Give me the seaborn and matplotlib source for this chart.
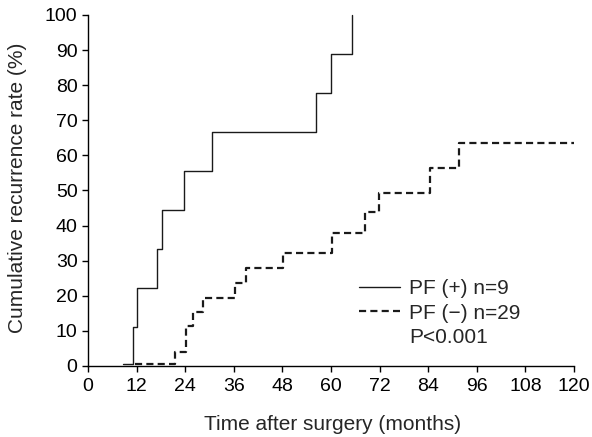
import pandas as pd
import matplotlib
matplotlib.use('Agg')
import matplotlib.pyplot as plt
import seaborn as sns

# curva PF (+): tempos (meses) e taxa acumulada (%)
tempo_pos = [8.6, 11.0, 12.2, 17.1, 18.2, 23.7, 30.5, 56.3, 60.1, 65.3]
taxa_pos = [0.5, 11.1, 22.2, 33.3, 44.4, 55.6, 66.7, 77.8, 88.9, 100.0]

# curva PF (-)
tempo_neg = [11.6, 21.5, 24.2, 26.0, 28.4, 36.3, 39.1, 48.1, 60.2, 68.4, 71.9, 84.4, 91.7, 120.0]
taxa_neg = [0.5, 3.9, 11.5, 15.5, 19.5, 23.7, 28.0, 32.3, 38.0, 43.8, 49.4, 56.3, 63.6, 63.6]

rotulos = ['PF (+) n=9', 'PF (\u2212) n=29']
xticks = list(range(0, 121, 12))
yticks = list(range(0, 101, 10))

df = pd.concat([
    pd.DataFrame({'Tempo': tempo_pos, 'Taxa': taxa_pos, 'Grupo': rotulos[0]}),
    pd.DataFrame({'Tempo': tempo_neg, 'Taxa': taxa_neg, 'Grupo': rotulos[1]}),
])

sns.set_style('ticks')
plt.rcParams['font.family'] = ['Liberation Sans', 'DejaVu Sans']

fig = plt.figure(figsize=(5.92, 4.37), dpi=100)
ax = fig.add_axes([0.1486, 0.1625, 0.821, 0.8032])

sns.lineplot(data=df, x='Tempo', y='Taxa', hue='Grupo', style='Grupo',
             palette=['#1a1a1a', '#1a1a1a'], dashes=[(None, None), (3.2, 1.9)],
             estimator=None, drawstyle='steps-post', ax=ax, legend=False)
linhas = ax.get_lines()
linhas[0].set_linewidth(1.0)
linhas[1].set_linewidth(1.6)

ax.set_xlim(0, 120)
ax.set_ylim(0, 100)
ax.set_xticks(xticks)
ax.set_yticks(yticks)
ax.tick_params(labelsize=14, length=4.5, width=1, direction='out', colors='black', pad=3)
ax.tick_params(axis='x', pad=4)
for s in ['top', 'right']:
    ax.spines[s].set_visible(False)
for s in ['left', 'bottom']:
    ax.spines[s].set_linewidth(1)
    ax.spines[s].set_color('black')
for linha in linhas:
    linha.set_clip_on(False)

ax.set_xlabel('Time after surgery (months)', fontsize=15)
ax.set_ylabel('Cumulative recurrence rate (%)', fontsize=15)
ax.xaxis.set_label_coords(0.504, -0.168)
ax.yaxis.set_label_coords(-0.144, 0.507)
ax.xaxis.label.set_va('center')
ax.yaxis.label.set_va('center')

ax.legend(linhas[:2], rotulos, frameon=False, fontsize=15, loc='upper left',
          bbox_to_anchor=(0.5576, 0.248), borderpad=0, borderaxespad=0,
          handlelength=1.97, handletextpad=0.43, labelspacing=0.27)
ax.text(79.3, 8.0, 'P<0.001', fontsize=15, va='center', ha='left')

fig.savefig('out.png', dpi=100)
